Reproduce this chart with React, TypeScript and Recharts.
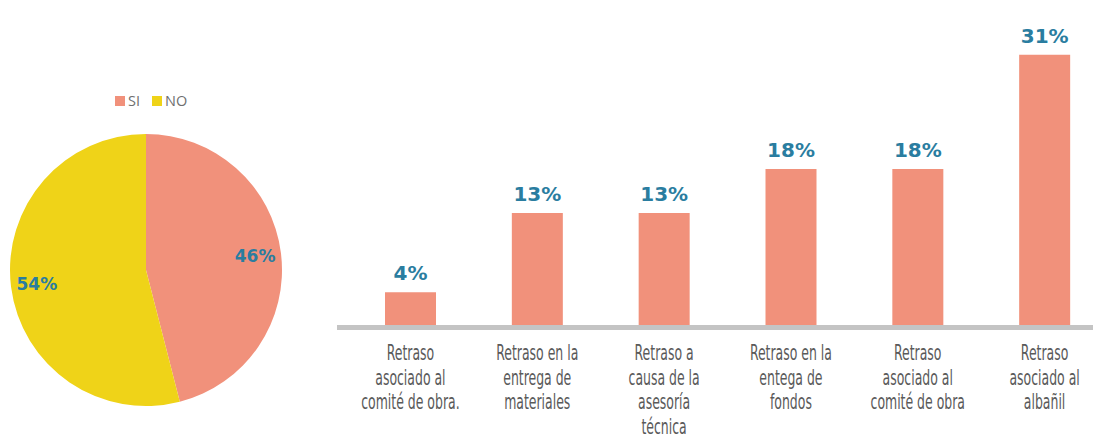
import React from "react";
import { PieChart, Pie, Cell, BarChart, Bar, XAxis, YAxis, LabelList } from "recharts";

const pieNames = ["SI", "NO"];
const pieValues = [46, 54];
const pieColors = ["#F1917B", "#EFD318"];

const categories = [
  "Retraso\nasociado al\ncomité de obra.",
  "Retraso en la\nentrega de\nmateriales",
  "Retraso a\ncausa de la\nasesoría\ntécnica",
  "Retraso en la\nentega de\nfondos",
  "Retraso\nasociado al\ncomité de obra",
  "Retraso\nasociado al\nalbañil",
];
const barValues = [4, 13, 13, 18, 18, 31];

const BAR_COLOR = "#F1917B";
const LABEL_COLOR = "#2A7DA0";
const TEXT_GRAY = "#5a5a5a";

const pieData = pieNames.map((name, i) => ({ name, value: pieValues[i] }));
const barData = categories.map((name, i) => ({ name, value: barValues[i] }));

const RAD = Math.PI / 180;

const PieLabel = (props: any) => {
  const { cx, cy, midAngle, value } = props;
  const r = 110;
  const x = cx + r * Math.cos(-midAngle * RAD);
  const y = cy + r * Math.sin(-midAngle * RAD);
  return (
    <text
      x={x}
      y={y}
      textAnchor="middle"
      dominantBaseline="central"
      fill={LABEL_COLOR}
      fontFamily="DejaVu Sans"
      fontWeight="bold"
      fontSize={17}
    >
      {value}%
    </text>
  );
};

const PieLegend = () => (
  <div
    style={{
      position: "absolute",
      left: 115,
      top: 91,
      display: "flex",
      alignItems: "center",
      fontFamily: "Open Sans, DejaVu Sans, sans-serif",
      fontSize: 14.5,
      color: "#6f6f6f",
    }}
  >
    {pieNames.map((n, i) => (
      <div key={n} style={{ display: "flex", alignItems: "center", marginRight: 12 }}>
        <span style={{ display: "inline-block", width: 10, height: 10, background: pieColors[i], marginRight: 3 }} />
        <span>{n}</span>
      </div>
    ))}
  </div>
);

const CategoryTick = (props: any) => {
  const { x, y, payload } = props;
  const lines = String(payload.value).split("\n");
  return (
    <g transform={`translate(${x},${y}) scale(0.66,1)`}>
      {lines.map((ln, i) => (
        <text
          key={i}
          x={0}
          y={33 + i * 24.5}
          textAnchor="middle"
          fill={TEXT_GRAY}
          fontFamily="Liberation Sans Narrow, DejaVu Sans Condensed, sans-serif"
          fontSize={21}
        >
          {ln}
        </text>
      ))}
    </g>
  );
};

export default function App() {
  return (
    <div style={{ position: "absolute", left: 0, top: 0, width: 1093, height: 436, background: "#fff", overflow: "hidden" }}>
      <div style={{ position: "absolute", left: 0, top: 0, width: 300, height: 436 }}>
        <PieChart width={300} height={436} margin={{ top: 0, right: 0, bottom: 0, left: 0 }}>
          <Pie
            data={pieData}
            dataKey="value"
            nameKey="name"
            cx={146}
            cy={270}
            outerRadius={136}
            innerRadius={0}
            startAngle={90}
            endAngle={-270}
            stroke="none"
            label={<PieLabel />}
            labelLine={false}
            isAnimationActive={false}
          >
            {pieData.map((_, i) => (
              <Cell key={i} fill={pieColors[i]} />
            ))}
          </Pie>
        </PieChart>
        <PieLegend />
      </div>
      <div style={{ position: "absolute", left: 300, top: 0, width: 793, height: 436, overflow: "hidden" }}>
        <BarChart
          width={808}
          height={436}
          data={barData}
          margin={{ top: 30, right: 0, bottom: 0, left: 37 }}
          barSize={51}
        >
          <YAxis hide domain={[0, 33.8]} />
          <XAxis
            dataKey="name"
            interval={0}
            height={108.5}
            padding={{ left: 10, right: 0 }}
            axisLine={{ stroke: "#C4C4C4", strokeWidth: 5 }}
            tickLine={false}
            tickSize={0}
            tickMargin={0}
            tick={<CategoryTick />}
          />
          <Bar dataKey="value" fill={BAR_COLOR} isAnimationActive={false}>
            <LabelList
              dataKey="value"
              position="top"
              offset={12}
              formatter={(v: any) => `${v}%`}
              fill={LABEL_COLOR}
              fontFamily="DejaVu Sans"
              fontWeight="bold"
              fontSize={20}
            />
          </Bar>
        </BarChart>
      </div>
    </div>
  );
}
